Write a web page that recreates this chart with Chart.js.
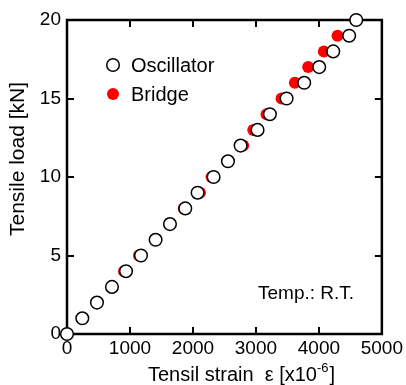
<!DOCTYPE html>
<html>
<head>
<meta charset="utf-8">
<script src="https://cdn.jsdelivr.net/npm/chart.js@4/dist/chart.umd.min.js"></script>
<style>
  html, body { margin: 0; padding: 0; background: #fff; }
  #wrap { position: relative; width: 406px; height: 385px; }
</style>
</head>
<body>
<div id="wrap"><canvas id="chart" width="406" height="385"></canvas></div>
<script>
// tensile load steps [kN]
const loads = [0, 1, 2, 3, 4, 5, 6, 7, 8, 9, 10, 11, 12, 13, 14, 15, 16, 17, 18, 19, 20];
// strain [x10^-6]
const oscillatorStrain = [0, 243, 476, 714, 937, 1175, 1407, 1635, 1878, 2074, 2328, 2556, 2757, 3026, 3222, 3487, 3767, 4005, 4228, 4481, 4593];
const bridgeStrain = [0, 243, 476, 714, 905, 1143, 1400, 1630, 1855, 2111, 2296, 2556, 2798, 2958, 3169, 3407, 3619, 3830, 4079, 4296];

const xTicks = [0, 1000, 2000, 3000, 4000, 5000];
const yTicks = [0, 5, 10, 15, 20];

const FONT = "'Liberation Sans', Arial, sans-serif";

function toPoints(xs) {
  return xs.map((x, i) => ({ x: x, y: loads[i] }));
}

// frame, inward ticks, titles, legend and note
const framePlugin = {
  id: "frame",
  beforeDatasetsDraw(chart) {
    const { ctx, chartArea: a, scales } = chart;
    ctx.save();
    ctx.strokeStyle = "#000";
    ctx.lineWidth = 2;
    const len = 7;
    ctx.beginPath();
    xTicks.slice(1, -1).forEach((v) => {
      const px = Math.round(scales.x.getPixelForValue(v));
      ctx.moveTo(px, a.bottom); ctx.lineTo(px, a.bottom - len);
      ctx.moveTo(px, a.top); ctx.lineTo(px, a.top + len);
    });
    yTicks.slice(1, -1).forEach((v) => {
      const py = Math.round(scales.y.getPixelForValue(v));
      ctx.moveTo(a.left, py); ctx.lineTo(a.left + len, py);
      ctx.moveTo(a.right, py); ctx.lineTo(a.right - len, py);
    });
    ctx.stroke();
    ctx.lineWidth = 2.5;
    ctx.strokeRect(a.left, a.top, a.right - a.left, a.bottom - a.top);
    ctx.restore();
  },
  afterDraw(chart) {
    const { ctx, data } = chart;
    ctx.save();
    ctx.fillStyle = "#000";
    ctx.textBaseline = "middle";

    // x axis title with superscript
    ctx.font = "20px " + FONT;
    let x = 148;
    const y = 375;
    const main = "Tensil strain  \u03b5 [x10";
    ctx.fillText(main, x, y);
    x += ctx.measureText(main).width;
    ctx.font = "13px " + FONT;
    ctx.fillText("-6", x, y - 7);
    x += ctx.measureText("-6").width + 1;
    ctx.font = "20px " + FONT;
    ctx.fillText("]", x, y);

    // y axis title
    ctx.save();
    ctx.translate(18, 159);
    ctx.rotate(-Math.PI / 2);
    ctx.textAlign = "center";
    ctx.font = "21px " + FONT;
    ctx.fillText("Tensile load [kN]", 0, 0);
    ctx.restore();

    // legend
    ctx.font = "20px " + FONT;
    data.datasets.forEach((ds, i) => {
      const cy = 65 + i * 29;
      ctx.beginPath();
      ctx.arc(113, cy, ds.pointRadius, 0, Math.PI * 2);
      ctx.fillStyle = ds.pointBackgroundColor;
      ctx.fill();
      if (ds.pointBorderWidth > 0) {
        ctx.lineWidth = ds.pointBorderWidth;
        ctx.strokeStyle = ds.pointBorderColor;
        ctx.stroke();
      }
      ctx.fillStyle = "#000";
      ctx.fillText(ds.label, 131, cy + 1);
    });

    ctx.font = "19px " + FONT;
    ctx.fillText("Temp.: R.T.", 258, 294);
    ctx.restore();
  },
};

new Chart(document.getElementById("chart"), {
  type: "scatter",
  data: {
    datasets: [
      {
        label: "Oscillator",
        data: toPoints(oscillatorStrain),
        pointRadius: 6.3,
        pointBorderWidth: 1.5,
        pointBackgroundColor: "#ffffff",
        pointBorderColor: "#000000",
        clip: false,
      },
      {
        label: "Bridge",
        data: toPoints(bridgeStrain),
        pointRadius: 6,
        pointBorderWidth: 0,
        pointBackgroundColor: "#ff0000",
        pointBorderColor: "#ff0000",
        clip: false,
      },
    ],
  },
  options: {
    responsive: false,
    animation: false,
    layout: { padding: { left: 0, top: 20, right: 24, bottom: 0 } },
    plugins: { legend: { display: false }, tooltip: { enabled: false } },
    scales: {
      x: {
        type: "linear",
        min: 0,
        max: 5000,
        afterBuildTicks: (s) => { s.ticks = xTicks.map((v) => ({ value: v })); },
        afterFit: (s) => { s.height = 51; },
        grid: { display: false, drawTicks: false },
        border: { display: false },
        ticks: {
          color: "#000", padding: 3, maxRotation: 0,
          font: { size: 19, family: FONT },
          callback: (v) => String(v),
        },
      },
      y: {
        type: "linear",
        min: 0,
        max: 20,
        afterBuildTicks: (s) => { s.ticks = yTicks.map((v) => ({ value: v })); },
        afterFit: (s) => { s.width = 67; },
        grid: { display: false, drawTicks: false },
        border: { display: false },
        ticks: {
          color: "#000", padding: 6,
          font: { size: 19, family: FONT },
          callback: (v) => String(v),
        },
      },
    },
  },
  plugins: [framePlugin],
});
</script>
</body>
</html>
